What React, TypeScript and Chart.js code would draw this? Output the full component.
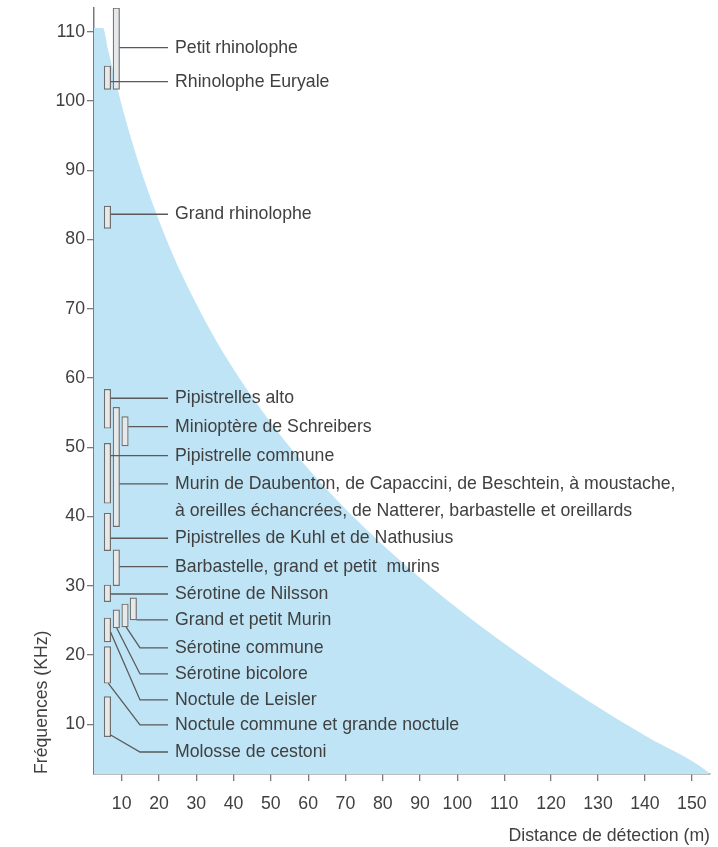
import { useEffect, useRef } from 'react';
import { Chart, registerables } from 'chart.js';

Chart.register(...registerables);

// ---- axes (distance in m, frequency in kHz) ----
const X_MIN = 2.57;
const X_MAX = 153.88;
const Y_MIN = 2.82;
const Y_MAX = 113.42;
const xTickValues = [10, 20, 30, 40, 50, 60, 70, 80, 90, 100, 110, 120, 130, 140, 150];
const yTickValues = [10, 20, 30, 40, 50, 60, 70, 80, 90, 100, 110];
// beyond 100 m the original drawing spaces the graduations wider
const STRETCH = 1.2577;
const disp = (d: number) => (d <= 100 ? d : 100 + (d - 100) * STRETCH);

// ---- detection range envelope ----
const curveDistance = [2.57, 4.99, 6.36, 9.63, 13.44, 17.94, 23.17, 29.47, 36.79, 45.56, 55.75, 67.69, 81.5, 97.18, 111.94, 127.61, 140.19, 153.45, 153.88];
const curveFrequency = [110.53, 110.53, 107.36, 100.14, 92.92, 85.7, 78.48, 71.26, 64.04, 56.82, 49.6, 42.38, 35.16, 27.94, 20.73, 13.51, 8.31, 3.11, 2.82];

// ---- species ----
const speciesNames = [
  'Petit rhinolophe',
  'Rhinolophe Euryale',
  'Grand rhinolophe',
  'Pipistrelles alto',
  'Minioptère de Schreibers',
  'Pipistrelle commune',
  'Murin de Daubenton, de Capaccini, de Beschtein, à moustache,',
  'Pipistrelles de Kuhl et de Nathusius',
  'Barbastelle, grand et petit  murins',
  'Sérotine de Nilsson',
  'Grand et petit Murin',
  'Sérotine commune',
  'Sérotine bicolore',
  'Noctule de Leisler',
  'Noctule commune et grande noctule',
  'Molosse de cestoni',
];
const barDistance = [8.55, 6.17, 6.17, 6.17, 10.89, 6.17, 8.55, 6.17, 8.55, 6.17, 13.11, 10.89, 8.55, 6.17, 6.17, 6.17];
const barLow = [101.68, 101.68, 81.61, 52.74, 50.18, 41.91, 38.53, 35.07, 30.01, 27.7, 25.06, 24.05, 23.91, 21.88, 15.92, 8.21];
const barHigh = [113.42, 105.05, 84.83, 58.37, 54.41, 50.57, 55.77, 40.47, 35.17, 30.11, 28.24, 27.37, 26.51, 25.35, 21.2, 13.99];
const labelFrequency = [107.69, 102.78, 83.64, 57.07, 52.97, 48.78, 44.7, 36.86, 32.76, 28.81, 25.06, 21.02, 17.27, 13.51, 9.9, 6.0];
// slanted leaders start from these points (null = straight leader from bar edge)
const leaderStartDistance: (number | null)[] = [null, null, null, null, null, null, null, null, null, null, null, 11.16, 8.66, 7.0, 6.41, 7.05];
const leaderStartFrequency: (number | null)[] = [null, null, null, null, null, null, null, null, null, null, null, 24.05, 23.91, 23.33, 15.92, 8.46];
const continuationText = 'à oreilles échancrées, de Natterer, barbastelle et oreillards';
const continuationFrequency = 40.8;

const LABEL_X = 24.3;
const LEADER_END = 22.42;
const LEADER_ELBOW = 14.91;
const BAR_HALF = 0.87;

const FONT = '"Liberation Sans", Arial, Helvetica, sans-serif';
const FONT_SIZE = 17.7;
const TEXT = '#404040';
const AXIS = '#7a7a7a';

export default function App() {
  const ref = useRef<HTMLCanvasElement | null>(null);

  useEffect(() => {
    if (!ref.current) return;
    Chart.defaults.font.family = FONT;

    const area = curveDistance.map((d, i) => ({ x: disp(d), y: curveFrequency[i] }));
    const bars = barDistance.map((d, i) => ({ x: disp(d), y: [barLow[i], barHigh[i]] }));
    const leaders: { x: number; y: number | null }[] = [];
    speciesNames.forEach((_, i) => {
      const f = labelFrequency[i];
      const sd = leaderStartDistance[i];
      const sf = leaderStartFrequency[i];
      if (sd !== null && sf !== null) {
        leaders.push({ x: disp(sd), y: sf });
        leaders.push({ x: disp(LEADER_ELBOW), y: f });
      } else {
        leaders.push({ x: disp(barDistance[i] + BAR_HALF), y: f });
      }
      leaders.push({ x: disp(LEADER_END), y: f });
      leaders.push({ x: disp(LEADER_END), y: null });
    });

    const labelPlugin = {
      id: 'speciesLabels',
      afterDatasetsDraw(chart: any) {
        const { ctx } = chart;
        const xs = chart.scales.x;
        const ys = chart.scales.y;
        ctx.save();
        ctx.font = `${FONT_SIZE}px ${FONT}`;
        ctx.fillStyle = TEXT;
        ctx.textAlign = 'left';
        ctx.textBaseline = 'middle';
        const px = xs.getPixelForValue(disp(LABEL_X));
        speciesNames.forEach((name, i) => {
          ctx.fillText(name, px, ys.getPixelForValue(labelFrequency[i]));
        });
        ctx.fillText(continuationText, px, ys.getPixelForValue(continuationFrequency));
        ctx.restore();
      },
    };

    const chart = new Chart(ref.current, {
      type: 'line',
      data: {
        datasets: [
          {
            type: 'line',
            data: leaders as any,
            borderColor: '#5a5a5a',
            borderWidth: 1.3,
            pointRadius: 0,
            fill: false,
            tension: 0,
            spanGaps: false,
            order: 1,
          },
          {
            type: 'bar',
            data: bars as any,
            backgroundColor: '#e6e8ea',
            borderColor: '#6e6e6e',
            borderWidth: 1.2,
            borderSkipped: false,
            barThickness: 6.5,
            grouped: false,
            order: 2,
          } as any,
          {
            type: 'line',
            data: area as any,
            backgroundColor: '#bfe4f6',
            borderWidth: 0,
            borderColor: 'rgba(0,0,0,0)',
            pointRadius: 0,
            fill: 'start',
            cubicInterpolationMode: 'monotone',
            order: 3,
          },
        ],
      },
      options: {
        animation: false,
        responsive: false,
        devicePixelRatio: 1,
        layout: { padding: { left: 0, top: 8, right: 8, bottom: 0 } },
        plugins: { legend: { display: false }, tooltip: { enabled: false } },
        scales: {
          x: {
            type: 'linear',
            min: disp(X_MIN),
            max: disp(X_MAX),
            offset: false,
            afterBuildTicks: (scale: any) => {
              scale.ticks = xTickValues.map((v) => ({ value: disp(v) }));
            },
            afterFit: (scale: any) => {
              scale.height = 73;
              scale.paddingLeft = 0;
              scale.paddingRight = 0;
            },
            ticks: {
              autoSkip: false,
              maxRotation: 0,
              padding: 12,
              color: TEXT,
              font: { size: FONT_SIZE },
              callback: (_v: any, i: number) => String(xTickValues[i]),
            },
            grid: { drawOnChartArea: false, drawTicks: true, tickLength: 7, color: AXIS, lineWidth: 1.3, offset: false },
            border: { display: true, color: AXIS, width: 1.5 },
            title: {
              display: true,
              text: 'Distance de détection (m)',
              align: 'end',
              color: TEXT,
              font: { size: FONT_SIZE },
              padding: { top: 0, bottom: 0 },
            },
          },
          y: {
            type: 'linear',
            min: Y_MIN,
            max: Y_MAX,
            afterBuildTicks: (scale: any) => {
              scale.ticks = yTickValues.map((v) => ({ value: v }));
            },
            afterFit: (scale: any) => {
              scale.width = 94;
              scale.paddingTop = 0;
              scale.paddingBottom = 0;
            },
            ticks: { padding: 2, color: TEXT, font: { size: FONT_SIZE } },
            grid: { drawOnChartArea: false, drawTicks: true, tickLength: 7, color: AXIS, lineWidth: 1.3 },
            border: { display: true, color: AXIS, width: 1.5 },
            title: {
              display: true,
              text: 'Fréquences (KHz)',
              align: 'start',
              color: TEXT,
              font: { size: FONT_SIZE },
              padding: { top: 31, bottom: 0 },
            },
          },
        },
      },
      plugins: [labelPlugin],
    });

    return () => chart.destroy();
  }, []);

  return (
    <div style={{ position: 'absolute', left: 0, top: 0, width: 718, height: 847 }}>
      <canvas ref={ref} width={718} height={847} />
    </div>
  );
}
